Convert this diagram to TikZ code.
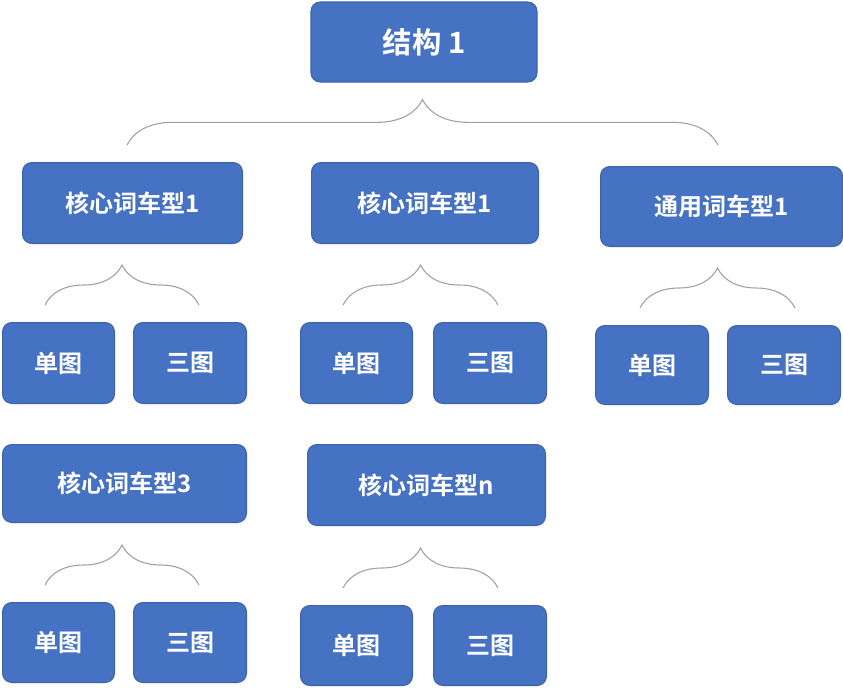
\documentclass[tikz,border=0pt]{standalone}
\usepackage{fontspec}
\newfontfamily\cjk{Noto Sans CJK SC Bold}
\usetikzlibrary{decorations.pathreplacing}
\definecolor{boxblue}{RGB}{70,114,196}
\definecolor{boxedge}{RGB}{60,98,170}
\definecolor{bracegray}{RGB}{160,160,160}
\tikzset{
  bx/.style={fill=boxblue,draw=boxedge,line width=0.8pt,rounded corners=7pt,text=white,font=\cjk\fontsize{18}{20}\selectfont},
  br/.style={draw=bracegray,line width=0.8pt,decorate,decoration={brace,amplitude=#1}}
}
\newcommand{\bxn}[6]{\node[bx,minimum width=#3*0.75pt-0.8pt,minimum height=#4*0.75pt-0.8pt,inner sep=0pt] (#5) at ({(#1)*0.75pt},{-(#2)*0.75pt}) {#6};}
\begin{document}
\begin{tikzpicture}
\useasboundingbox (0,0) rectangle (843*0.75pt,-687*0.75pt);
\node[bx,minimum width=226*0.75pt,minimum height=80*0.75pt,inner sep=0pt,font=\cjk\fontsize{22}{24}\selectfont] (top) at (424*0.75pt,-42*0.75pt) {结构 1};
\bxn{132.5}{203}{221}{82}{a}{核心词车型1}
\bxn{425}{203}{228}{82}{b}{核心词车型1}
\bxn{721.5}{206.5}{243}{81}{c}{通用词车型1}
\bxn{124.5}{483.5}{245}{79}{d}{核心词车型3}
\bxn{426.5}{485}{239}{82}{e}{核心词车型n}
\bxn{58.5}{363}{113}{82}{a1}{单图}
\bxn{190}{363}{114}{82}{a2}{三图}
\bxn{356.5}{363}{113}{82}{b1}{单图}
\bxn{490}{363}{114}{82}{b2}{三图}
\bxn{652}{365}{114}{80}{c1}{单图}
\bxn{784}{365}{114}{80}{c2}{三图}
\bxn{58.5}{642.5}{113}{81}{d1}{单图}
\bxn{190}{642.5}{114}{81}{d2}{三图}
\bxn{356.5}{645.5}{113}{81}{e1}{单图}
\bxn{490}{645.5}{114}{81}{e2}{三图}
\draw[br=34pt] (127*0.75pt,-145*0.75pt) -- (718*0.75pt,-145*0.75pt);
\draw[br=30pt] (45*0.75pt,-305*0.75pt) -- (199*0.75pt,-305*0.75pt);
\draw[br=30pt] (343*0.75pt,-305*0.75pt) -- (498*0.75pt,-305*0.75pt);
\draw[br=30pt] (640*0.75pt,-308*0.75pt) -- (795*0.75pt,-308*0.75pt);
\draw[br=30pt] (45*0.75pt,-585*0.75pt) -- (199*0.75pt,-585*0.75pt);
\draw[br=30pt] (343*0.75pt,-588*0.75pt) -- (498*0.75pt,-588*0.75pt);
\end{tikzpicture}
\end{document}
